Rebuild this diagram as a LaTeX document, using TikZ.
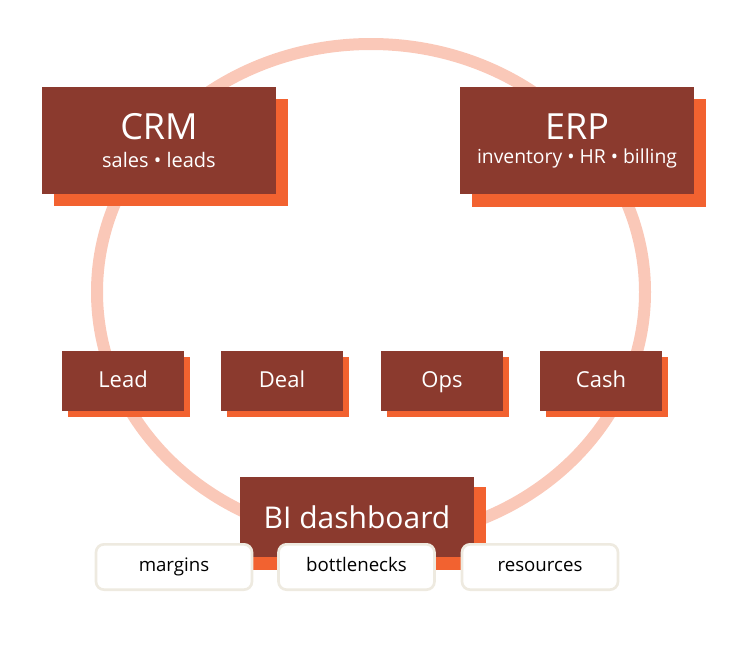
\documentclass[tikz,border=0pt]{standalone}
\usepackage{fontspec}
\setmainfont{Open Sans}
\definecolor{dark}{HTML}{8B3A2E}
\definecolor{shad}{HTML}{F26230}
\definecolor{ring}{HTML}{FAC8B8}
\definecolor{pillb}{HTML}{EEEAE0}
\begin{document}
\begin{tikzpicture}[x=0.75pt,y=-0.75pt,
  big/.style={fill=dark,draw=none,text=white,align=center,inner sep=0pt},
  pill/.style={fill=white,draw=pillb,line width=2pt,rounded corners=6pt,minimum width=117pt,minimum height=34pt,inner sep=0pt,text height=10pt,text depth=3pt,font=\fontsize{14}{16}\selectfont}]
\useasboundingbox (0,0) rectangle (743,653);
\draw[ring,line width=9pt] (371,292) ellipse [x radius=274, y radius=248];
% CRM
\fill[shad] (54,99) rectangle (288,206);
\node[big,minimum width=175.5pt,minimum height=80pt] (crm) at (159,140.5) {\fontsize{27}{30}\selectfont CRM\\[9pt]\fontsize{15}{18}\selectfont sales • leads};
% ERP
\fill[shad] (472,99) rectangle (706,207);
\node[big,minimum width=175.5pt,minimum height=80pt] (erp) at (577,140.5) {\fontsize{27}{30}\selectfont ERP\\[6pt]\fontsize{14.5}{18}\selectfont inventory • HR • billing};
% small
\foreach \n/\t/\x in {lead/Lead/62,deal/Deal/221,ops/Ops/381,cash/Cash/540}{
  \fill[shad] (\x+6,357) rectangle (\x+128,417);
  \node[big,minimum width=91.5pt,minimum height=45pt,text height=12pt,text depth=3pt,font=\fontsize{16.5}{19}\selectfont] (\n) at (\x+61,381) {\t};
}
% BI
\fill[shad] (252,487) rectangle (486,570);
\node[big,minimum width=175.5pt,minimum height=60pt,font=\fontsize{22.5}{26}\selectfont] (bi) at (357,517) {BI dashboard};
\node[pill] (m) at (174,567) {margins};
\node[pill] (b) at (356.5,567) {bottlenecks};
\node[pill] (r) at (540,567) {resources};
\end{tikzpicture}
\end{document}
